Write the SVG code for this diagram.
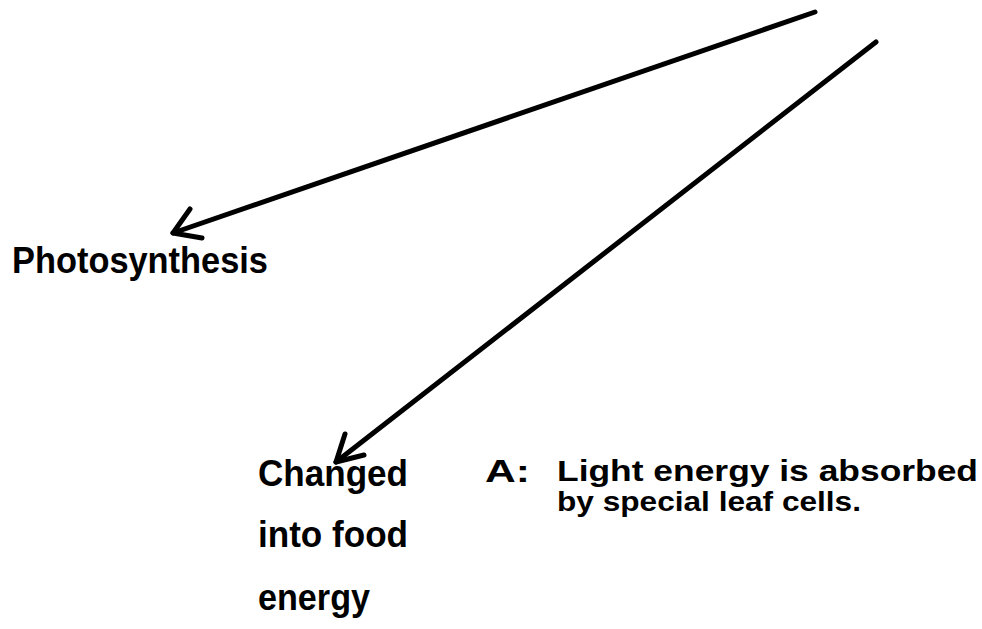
<svg xmlns="http://www.w3.org/2000/svg" width="982" height="629" viewBox="0 0 982 629">
<style>
.t{font-family:"Liberation Sans",Arial,sans-serif;font-weight:bold;fill:#000}
.c{stroke:#000;stroke-width:5;fill:none;stroke-linecap:round;stroke-linejoin:round}
</style>
<rect width="982" height="629" fill="#fff"/>
<g id="connectors">
<path class="c" d="M815,12 L173,233"/>
<path class="c" d="M190,209 L173,233 L202,238"/>
<path class="c" d="M876,42 L336,462"/>
<path class="c" d="M345,434 L336,462 L364,455"/>
</g>
<g id="photosynthesis">
<text class="t" x="12" y="273" font-size="36" textLength="256" lengthAdjust="spacingAndGlyphs">Photosynthesis</text>
</g>
<g id="changed">
<text class="t" x="258" y="486" font-size="36" textLength="150" lengthAdjust="spacingAndGlyphs">Changed</text>
<text class="t" x="258" y="547" font-size="36" textLength="150" lengthAdjust="spacingAndGlyphs">into food</text>
<text class="t" x="258" y="610" font-size="36" textLength="112" lengthAdjust="spacingAndGlyphs">energy</text>
</g>
<g id="answer">
<text class="t" x="485" y="482" font-size="31" textLength="45" lengthAdjust="spacingAndGlyphs">A:</text>
<text class="t" x="557" y="481" font-size="30" textLength="421" lengthAdjust="spacingAndGlyphs">Light energy is absorbed</text>
<text class="t" x="557" y="511" font-size="28" textLength="304" lengthAdjust="spacingAndGlyphs">by special leaf cells.</text>
</g>
</svg>
